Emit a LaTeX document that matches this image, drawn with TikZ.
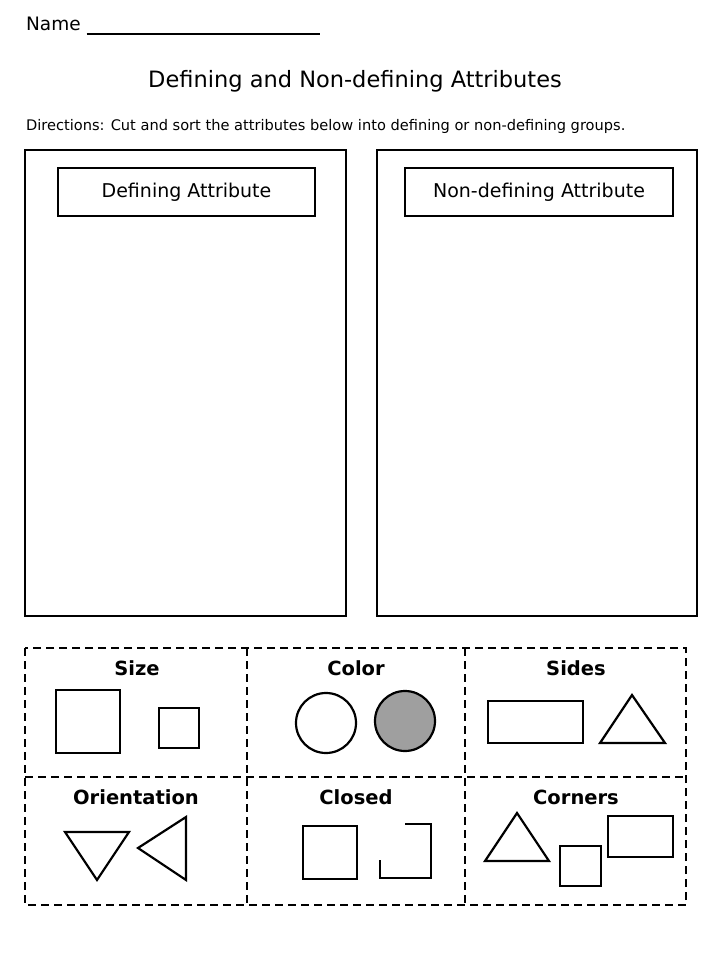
\documentclass[tikz,border=0pt]{standalone}
\usepackage{fontspec}
\setmainfont{DejaVu Sans}
\begin{document}
\begin{tikzpicture}[x=1pt,y=-1pt,line width=2.2pt,
  cutline/.style={dashed,dash pattern=on 8pt off 5pt,line width=2.4pt},
  headbox/.style={draw,minimum width=257pt,minimum height=48pt,font=\fontsize{19}{21}\selectfont},
  celltitle/.style={font=\bfseries\fontsize{19.5}{22}\selectfont}]
\useasboundingbox (0,0) rectangle (720,960);
\node (name) [anchor=west,font=\fontsize{18.5}{20}\selectfont,inner sep=0pt] at (25,26) {Name \rule[-4pt]{233pt}{1.4pt}};
\node (title) [font=\fontsize{22.5}{25}\selectfont] at (355,81) {Defining and Non-defining Attributes};
\node (dir) [anchor=west,font=\fontsize{14.6}{16}\selectfont,inner sep=0pt] at (25,126) {Directions: Cut and sort the attributes below into defining or non-defining groups.};
% sorting columns
\draw (25,150) rectangle (346,616);
\draw (377,150) rectangle (697,616);
\node (def) [headbox] at (186.5,192) {Defining Attribute};
\node (nondef) [headbox,minimum width=268pt] at (539,192) {Non-defining Attribute};
% cut-out cards
\draw [cutline] (25,648) rectangle (686,905);
\draw [cutline] (25,777) -- (686,777);
\draw [cutline] (247,648) -- (247,905);
\draw [cutline] (465,648) -- (465,905);
\node (size) [celltitle] at (137,668) {Size};
\node (color) [celltitle] at (356,668) {Color};
\node (sides) [celltitle] at (576,668) {Sides};
\node (orient) [celltitle] at (136,797) {Orientation};
\node (closed) [celltitle] at (356,797) {Closed};
\node (corners) [celltitle] at (576,797) {Corners};
% shapes
\draw (56,690) rectangle (120,753);
\draw (159,708) rectangle (199,748);
\draw (326,723) circle (30);
\draw [fill=gray!75] (405,721) circle (30);
\draw (488,701) rectangle (583,743);
\draw (600,743) -- (665,743) -- (632,695) -- cycle;
\draw (65,832) -- (129,832) -- (97,880) -- cycle;
\draw (186,817) -- (186,880) -- (138,848) -- cycle;
\draw (303,826) rectangle (357,879);
\draw (405,824) -- (431,824) -- (431,878) -- (380,878) -- (380,860);
\draw (485,861) -- (549,861) -- (517,813) -- cycle;
\draw (560,846) rectangle (601,886);
\draw (608,816) rectangle (673,857);
\end{tikzpicture}
\end{document}
